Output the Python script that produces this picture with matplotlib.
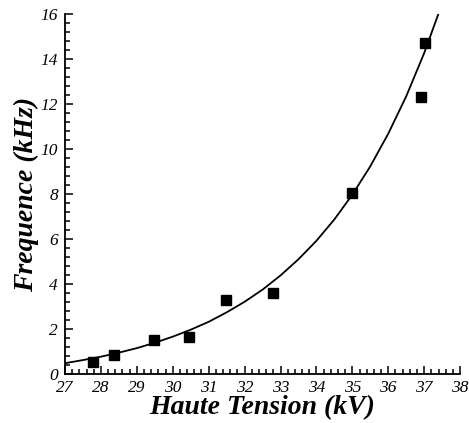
import matplotlib
matplotlib.use("Agg")
import matplotlib.pyplot as plt
from matplotlib.ticker import MultipleLocator

# measured points
tension_kv = [27.77, 28.37, 29.47, 30.46, 31.48, 32.79, 34.99, 36.90, 37.03]
frequence_khz = [0.55, 0.83, 1.51, 1.63, 3.29, 3.61, 8.03, 12.33, 14.73]

# trend curve
curve_kv = [27.0, 27.5, 28.0, 28.5, 29.0, 29.5, 30.0, 30.5, 31.0, 31.5, 32.0,
            32.5, 33.0, 33.5, 34.0, 34.5, 35.0, 35.5, 36.0, 36.5, 37.0, 37.5]
curve_khz = [0.48, 0.62, 0.77, 0.95, 1.15, 1.39, 1.66, 1.97, 2.32, 2.74, 3.21,
             3.75, 4.38, 5.10, 5.92, 6.87, 7.97, 9.23, 10.68, 12.34, 14.26, 16.46]

plt.rcParams["font.family"] = ["Liberation Serif", "DejaVu Serif"]

fig = plt.figure(figsize=(4.69, 4.23), dpi=100)
ax = fig.add_axes([0.1386, 0.1158, 0.981 - 0.1386, 0.967 - 0.1158])

ax.plot(curve_kv, curve_khz, color="black", lw=1.3, zorder=2)
ax.plot(tension_kv, frequence_khz, "s", color="black", markersize=7, zorder=3)

ax.set_xlim(27, 38)
ax.set_ylim(0, 16)
ax.xaxis.set_major_locator(MultipleLocator(1))
ax.xaxis.set_minor_locator(MultipleLocator(0.2))
ax.yaxis.set_major_locator(MultipleLocator(2))
ax.yaxis.set_minor_locator(MultipleLocator(0.4))

for side in ["top", "right"]:
    ax.spines[side].set_visible(False)
for side in ["left", "bottom"]:
    ax.spines[side].set_linewidth(1.3)

ax.tick_params(which="both", direction="in", width=1.1, labelsize=12.5)
ax.tick_params(which="major", length=6)
ax.tick_params(which="minor", length=3.8)
ax.tick_params(axis="y", pad=5)
ax.tick_params(axis="x", pad=4)
for lab in ax.get_xticklabels() + ax.get_yticklabels():
    lab.set_fontstyle("italic")

ax.set_xlabel("Haute Tension (kV)", fontsize=20, fontweight="bold",
              fontstyle="italic", labelpad=0)
ax.set_ylabel("Frequence (kHz)", fontsize=20, fontweight="bold",
              fontstyle="italic", labelpad=1)

fig.savefig("out.png", dpi=100)
